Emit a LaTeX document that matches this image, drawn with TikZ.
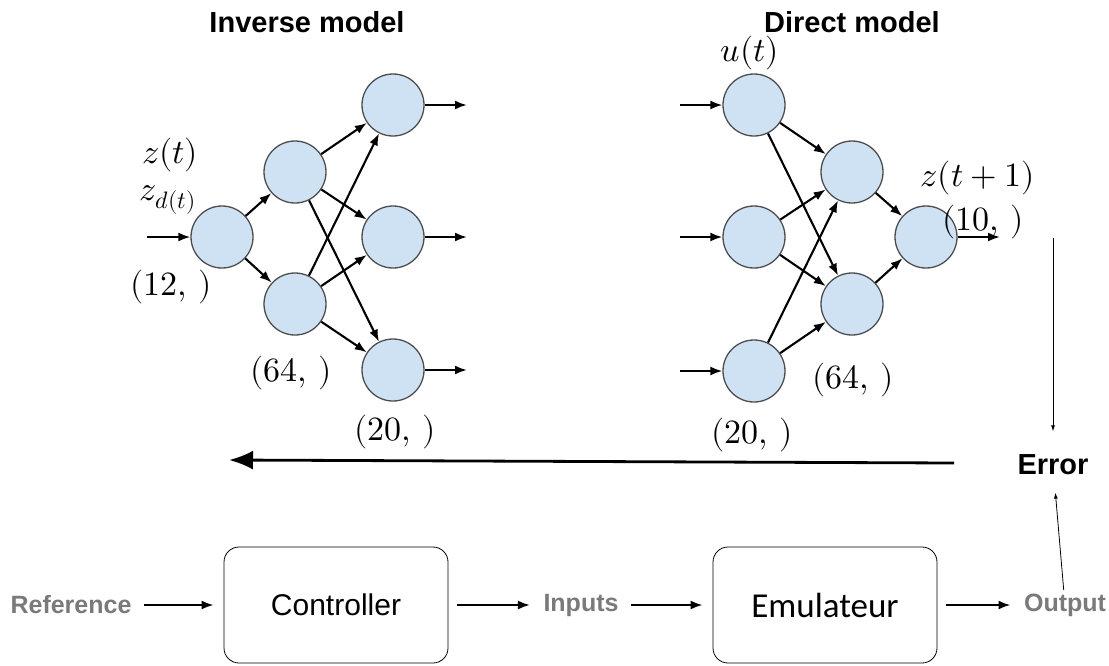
\documentclass[tikz,border=0pt]{standalone}
\usepackage{fontspec}
\usepackage{unicode-math}
\setmainfont{Liberation Sans}
\setmathfont{Latin Modern Math}
\newfontfamily\calibri{Carlito}
\usetikzlibrary{arrows.meta,positioning}
\definecolor{neuron}{HTML}{CFE2F3}
\definecolor{lblgray}{HTML}{7A7A7A}

\begin{document}
\begin{tikzpicture}[x=1pt,y=-1pt,
    neuron/.style={circle,draw=black!70,fill=neuron,line width=1.3pt,minimum size=62pt,inner sep=0pt},
    syn/.style={-{Latex[length=12pt,width=9pt]},line width=2.1pt},
    thin/.style={-{Latex[length=6pt,width=4pt]},line width=0.8pt,shorten >=14pt},
    shape lbl/.style={font=\fontsize{34}{40}\selectfont},
    title/.style={font=\fontsize{29}{34}\selectfont\bfseries},
    signal/.style={text=lblgray,font=\fontsize{25}{30}\selectfont\bfseries},
    block/.style={draw,rounded corners=15pt,minimum width=224pt,minimum height=116pt,line width=0.8pt},
    flow/.style={-{Latex[length=12pt,width=9pt]},line width=2.1pt,shorten <=9pt,shorten >=10pt}]
    \useasboundingbox (0,0) rectangle (1109,665);

    % inverse model
    \node [title] (invtitle) at (307,22) {Inverse model};
    \node [neuron] (i1) at (222,237) {};
    \node [neuron] (ih1) at (295,172) {};
    \node [neuron] (ih2) at (295,304) {};
    \node [neuron] (io1) at (393,105) {};
    \node [neuron] (io2) at (393,237) {};
    \node [neuron] (io3) at (393,370) {};
    \coordinate (iin) at (147,237);
    \coordinate (iout1) at (467,105);
    \coordinate (iout2) at (467,237);
    \coordinate (iout3) at (467,370);
    \draw [syn] (iin) -- (i1);
    \draw [syn] (i1) -- (ih1);
    \draw [syn] (i1) -- (ih2);
    \draw [syn] (ih1) -- (io1);
    \draw [syn] (ih1) -- (io2);
    \draw [syn] (ih1) -- (io3);
    \draw [syn] (ih2) -- (io1);
    \draw [syn] (ih2) -- (io2);
    \draw [syn] (ih2) -- (io3);
    \draw [syn] (io1) -- (iout1);
    \draw [syn] (io2) -- (iout2);
    \draw [syn] (io3) -- (iout3);
    \node [shape lbl] (zt) at (170,155) {$z(t)$};
    \node [shape lbl] (zd) at (168,200) {$z_{d(t)}$};
    \node [shape lbl] (isize1) at (171,287) {$(12,\,)$};
    \node [shape lbl] (isize2) at (291,373) {$(64,\,)$};
    \node [shape lbl] (isize3) at (395,432) {$(20,\,)$};

    % direct model
    \node [title] (dirtitle) at (852,22) {Direct model};
    \node [neuron] (d1) at (754,105) {};
    \node [neuron] (d2) at (754,237) {};
    \node [neuron] (d3) at (754,371) {};
    \node [neuron] (dh1) at (852,172) {};
    \node [neuron] (dh2) at (852,304) {};
    \node [neuron] (do) at (926,237) {};
    \coordinate (din1) at (680,105);
    \coordinate (din2) at (680,237);
    \coordinate (din3) at (680,371);
    \coordinate (dout) at (1000,237);
    \draw [syn] (din1) -- (d1);
    \draw [syn] (din2) -- (d2);
    \draw [syn] (din3) -- (d3);
    \draw [syn] (d1) -- (dh1);
    \draw [syn] (d1) -- (dh2);
    \draw [syn] (d2) -- (dh1);
    \draw [syn] (d2) -- (dh2);
    \draw [syn] (d3) -- (dh1);
    \draw [syn] (d3) -- (dh2);
    \draw [syn] (dh1) -- (do);
    \draw [syn] (dh2) -- (do);
    \draw [syn] (do) -- (dout);
    \node [shape lbl] (ut) at (750,53) {$u(t)$};
    \node [shape lbl] (znext) at (978,178) {$z(t+1)$};
    \node [shape lbl] (dsize4) at (983,222) {$(10,\,)$};
    \node [shape lbl] (dsize2) at (853,380) {$(64,\,)$};
    \node [shape lbl] (dsize1) at (752,435) {$(20,\,)$};

    % error feedback
    \node [title] (err) at (1053,465) {Error};
    \coordinate (errin) at (1053,238);
    \draw [thin,shorten >=20pt] (errin) -- (err);
    \coordinate (fbstart) at (954,463);
    \coordinate (fbend) at (229,460);
    \draw [-{Latex[length=24pt,width=19pt]},line width=2.8pt] (fbstart) -- (fbend);

    % control loop
    \node [signal] (ref) at (71,605) {Reference};
    \node [block,font=\fontsize{30}{36}\selectfont] (ctrl) at (336,605) {Controller};
    \node [signal] (inp) at (581,605) {Inputs};
    \node [block,font=\fontsize{35}{42}\selectfont\calibri] (emul) at (825,605) {Emulateur};
    \node [signal] (outp) at (1065,605) {Output};
    \draw [flow] (ref) -- (ctrl);
    \draw [flow] (ctrl) -- (inp);
    \draw [flow] (inp) -- (emul);
    \draw [flow] (emul) -- (outp);
    \draw [thin] (outp) -- (err);
\end{tikzpicture}
\end{document}
